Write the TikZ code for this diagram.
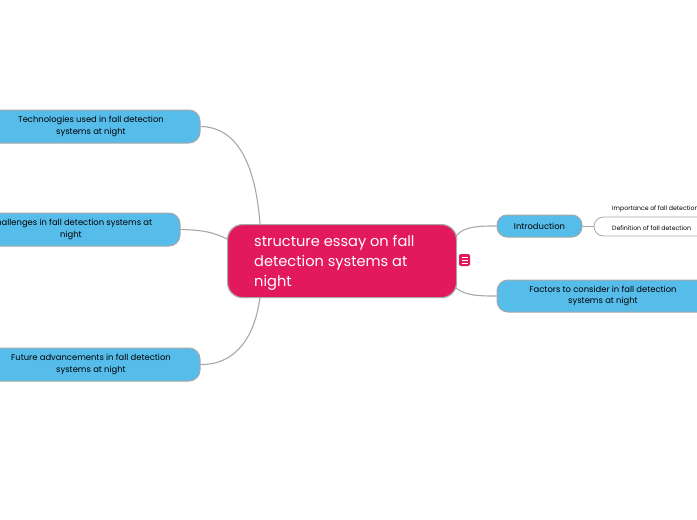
\documentclass[tikz,border=0pt]{standalone}
\usepackage{fontspec}
\setmainfont{Poppins}
\definecolor{pinkc}{HTML}{E3195E}
\definecolor{bluec}{HTML}{56BDEB}
\definecolor{edgec}{HTML}{A8A8A8}
\begin{document}
\begin{tikzpicture}[x=1pt,y=-1pt,
  topic/.style={draw=edgec, line width=1pt, fill=bluec, rounded corners=11pt,
    font=\fontsize{8.4}{11.8}\selectfont, align=center, inner sep=0pt},
  link/.style={draw=edgec, line width=1.1pt},
  subtext/.style={font=\fontsize{6.2}{8}\selectfont, anchor=west, inner sep=0pt}]
\useasboundingbox (0,0) rectangle (697,520);
\clip (0,0) rectangle (697,520);
\fill[white] (0,0) rectangle (697,520);
% root
\node[draw=edgec, line width=1.2pt, fill=pinkc, rounded corners=15pt,
  minimum width=229pt, minimum height=73pt, anchor=north west, inner sep=0pt] (root) at (227,224) {};
\node[text=white, font=\fontsize{14.6}{20}\selectfont, align=left, anchor=north west, inner sep=0pt]
  (roottext) at (254,235) {structure essay on fall\\detection systems at\\night};
% connector end points on root
\coordinate (rtop) at (260,224);
\coordinate (rleft) at (227,239);
\coordinate (rbot) at (260,297);
\coordinate (rright1) at (456,236);
\coordinate (rright2) at (456,288);
% left topics
\node[topic, minimum width=218pt, minimum height=33pt] (tech) at (91,126.5)
  {Technologies used in fall detection\\systems at night};
\node[topic, minimum width=218pt, minimum height=33pt] (chal) at (71,229.5)
  {Challenges in fall detection systems at\\night};
\node[topic, minimum width=218pt, minimum height=33pt] (fut) at (91,364.5)
  {Future advancements in fall detection\\systems at night};
% right topics
\node[topic, rounded corners=10pt, minimum width=85pt, minimum height=22pt] (intro) at (539.5,226)
  {Introduction};
\node[topic, minimum width=212pt, minimum height=32pt] (fact) at (603,296)
  {Factors to consider in fall detection\\systems at night};
% connectors
\draw[link] (tech.east) .. controls (240,127) and (256,170) .. (rtop);
\draw[link] (chal.east) .. controls (205,230) and (215,233) .. (rleft);
\draw[link] (fut.east) .. controls (240,365) and (256,330) .. (rbot);
\draw[link] (rright1) .. controls (464,226) and (480,226) .. (intro.west);
\draw[link] (rright2) .. controls (466,296) and (480,296) .. (fact.west);
% subtopics
\coordinate (bracket) at (594,226);
\draw[edgec, line width=0.8pt] (intro.east) -- (bracket);
\draw[edgec, line width=0.8pt, rounded corners=9.5pt] (720,217) -- (594,217) -- (594,236) -- (720,236);
\node[subtext] (imp) at (612,209) {Importance of fall detection};
\node[subtext] (def) at (612,228) {Definition of fall detection};
% note icon
\node[fill=pinkc, rounded corners=2pt, minimum width=11pt, minimum height=12pt, inner sep=0pt] (icon) at (464.5,260) {};
\draw[white, line width=0.9pt] (461.5,257) -- (467.5,257) (461.5,260) -- (467.5,260) (461.5,263) -- (467.5,263);
\end{tikzpicture}
\end{document}
